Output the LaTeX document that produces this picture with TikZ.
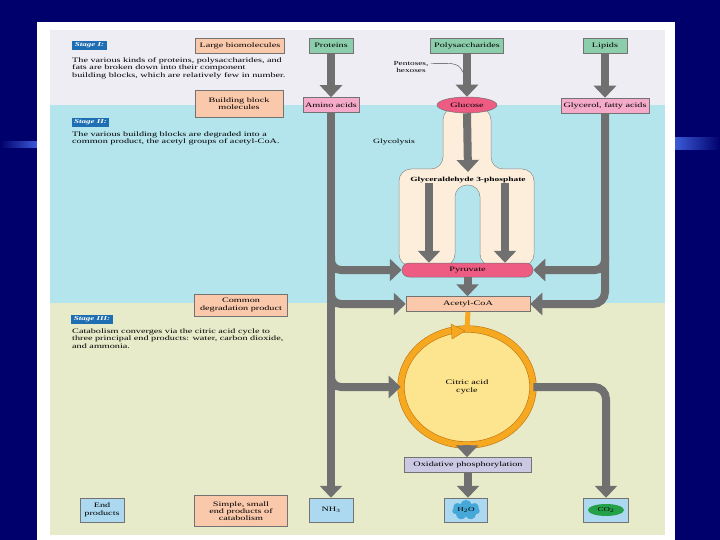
\documentclass[tikz,border=0pt]{standalone}
\usepackage{fontspec}
\setmainfont{Liberation Serif}[FakeStretch=1.5]
\usetikzlibrary{shapes.geometric, shapes.symbols, arrows.meta}
\definecolor{slidenavy}{RGB}{0, 0, 108}
\definecolor{stripeblue}{RGB}{60, 90, 215}
\definecolor{bandgrey}{RGB}{237, 237, 243}
\definecolor{bandcyan}{RGB}{180, 228, 236}
\definecolor{bandolive}{RGB}{232, 235, 202}
\definecolor{peach1}{RGB}{250, 200, 170}
\definecolor{mint1}{RGB}{140, 206, 172}
\definecolor{pink1}{RGB}{244, 170, 200}
\definecolor{rose1}{RGB}{238, 92, 132}
\definecolor{cream1}{RGB}{253, 238, 220}
\definecolor{sky1}{RGB}{172, 216, 240}
\definecolor{lilac1}{RGB}{202, 200, 226}
\definecolor{stageblue}{RGB}{30, 110, 180}
\definecolor{flowgray}{RGB}{112, 112, 112}
\definecolor{ringorange}{RGB}{246, 168, 32}
\definecolor{ringedge}{RGB}{190, 120, 20}
\definecolor{cyclefill}{RGB}{253, 228, 142}
\definecolor{waterblue}{RGB}{70, 168, 216}
\definecolor{gasgreen}{RGB}{36, 160, 72}

\begin{document}
\begin{tikzpicture}[x=1pt, y=-1pt,
  tag/.style={fill=stageblue, text=white, inner xsep=2.5pt, inner ysep=1.8pt, font=\fontsize{6}{6.5}\selectfont\bfseries\itshape},
  para/.style={anchor=north west, align=left, inner sep=0pt, font=\fontsize{6.8}{7.4}\selectfont},
  box/.style={draw=black!55, line width=0.5pt, align=center, inner sep=1pt, font=\fontsize{6.8}{7.3}\selectfont},
  flow/.style={draw=flowgray, line width=8pt, -{Triangle[width=22pt,length=12pt]}}]

  % slide and panel
  \fill[slidenavy] (0,0) rectangle (720,540);
  \shade[left color=slidenavy, right color=stripeblue] (0,142) rectangle (37,148);
  \shade[left color=stripeblue, right color=slidenavy] (675,138) rectangle (720,150);
  \fill[white] (37,22) rectangle (675,540);
  \fill[bandgrey] (50,30) rectangle (665,105);
  \fill[bandcyan] (50,105) rectangle (665,303);
  \fill[bandolive] (50,303) rectangle (665,535);

  % glycolysis body
  \draw[draw=black!45, fill=cream1, line width=0.5pt, rounded corners=12pt]
    (399,266) -- (399,169) -- (443,169) -- (443,108) -- (491,108) -- (491,169)
    -- (534,169) -- (534,266) -- (480,266) -- (480,185) -- (455,185) -- (455,266) -- cycle;

  % stage texts
  \node[tag] (tag1) at (89.5,45.5) {Stage I:};
  \node[para] (text1) at (72,57.5) {The various kinds of proteins, polysaccharides, and\\fats are broken down into their component\\building blocks, which are relatively few in number.};
  \node[tag] (tag2) at (90.5,122.5) {Stage II:};
  \node[para] (text2) at (72,131.5) {The various building blocks are degraded into a\\common product, the acetyl groups of acetyl-CoA.};
  \node[tag] (tag3) at (92,319.5) {Stage III:};
  \node[para] (text3) at (72,328.5) {Catabolism converges via the citric acid cycle to\\three principal end products: water, carbon dioxide,\\and ammonia.};

  % level boxes
  \node[box, fill=peach1, minimum width=89pt, minimum height=15pt] (large) at (240,45.5) {Large biomolecules};
  \node[box, fill=peach1, minimum width=88pt, minimum height=27pt] (building) at (239,103.5) {Building block\\molecules};
  \node[box, fill=peach1, minimum width=93pt, minimum height=22pt] (common) at (241,305) {Common\\degradation product};
  \node[box, fill=peach1, minimum width=93pt, minimum height=31pt] (simple) at (241,511) {Simple, small\\end products of\\catabolism};
  \node[box, fill=sky1, minimum width=44pt, minimum height=24pt] (endprod) at (102,510) {End\\products};

  % large biomolecules
  \node[box, fill=mint1, minimum width=44pt, minimum height=15pt] (proteins) at (331,45.5) {Proteins};
  \node[box, fill=mint1, minimum width=73pt, minimum height=15pt] (polysac) at (467,45.5) {Polysaccharides};
  \node[box, fill=mint1, minimum width=44pt, minimum height=15pt] (lipids) at (605,45.5) {Lipids};

  % building blocks
  \node[box, fill=pink1, minimum width=56pt, minimum height=15pt] (amino) at (331,105) {Amino acids};
  \node[box, ellipse, fill=rose1, minimum width=60pt, minimum height=16pt, inner sep=0pt] (glucose) at (467,105) {Glucose};
  \node[box, fill=pink1, minimum width=88pt, minimum height=15pt] (glycerol) at (605,105.5) {Glycerol, fatty acids};
  \node[align=center, inner sep=0pt, font=\fontsize{6.2}{7.4}\selectfont] (pentoses) at (411,67) {Pentoses,\\hexoses};
  \coordinate (hexarrow) at (464,74);
  \draw[black!75, line width=0.4pt] ([xshift=2pt,yshift=3.5pt]pentoses.east) .. controls (458,63) .. (hexarrow);

  % glycolysis
  \node[inner sep=0pt, font=\fontsize{6.5}{7}\selectfont] (glyco) at (394,142) {Glycolysis};
  \node[inner sep=0pt, font=\fontsize{6.3}{7}\selectfont\bfseries] (g3p) at (468,180) {Glyceraldehyde 3-phosphate};
  \node[box, fill=rose1, rounded corners=7pt, minimum width=131pt, minimum height=14pt] (pyruvate) at (467.5,270) {Pyruvate};
  \node[box, fill=peach1, minimum width=124pt, minimum height=15pt] (acetyl) at (468,304) {Acetyl-CoA};

  % citric acid cycle
  \node[ellipse, draw=ringedge, double=ringorange, double distance=6pt, line width=0.6pt, fill=cyclefill,
    minimum width=132pt, minimum height=116pt, align=center, font=\fontsize{6.8}{7.6}\selectfont] (cycle) at (467,387) {Citric acid\\cycle};
  \draw[ringorange, line width=5pt] (acetyl.south) -- (cycle.north);
  \fill[ringorange, draw=ringedge, line width=0.4pt] (451,324) -- (465,331) -- (452,339) -- cycle;
  \node[box, fill=lilac1, minimum width=127pt, minimum height=15pt] (oxphos) at (468,465) {Oxidative phosphorylation};

  % end products
  \node[box, fill=sky1, minimum width=44pt, minimum height=24pt] (nh3) at (331,510) {NH\textsubscript{3}};
  \node[box, fill=sky1, minimum width=43pt, minimum height=24pt] (h2o) at (466,510) {};
  \node[cloud, cloud puffs=7, aspect=2, fill=waterblue, inner sep=0.5pt, font=\fontsize{6}{7}\selectfont] (h2oblob) at (h2o) {H\textsubscript{2}O};
  \node[box, fill=sky1, minimum width=45pt, minimum height=24pt] (co2) at (606,510) {};
  \node[ellipse, fill=gasgreen, minimum width=36pt, minimum height=12pt, inner sep=0pt, font=\fontsize{6}{7}\selectfont] (co2blob) at (co2) {CO\textsubscript{2}};

  % branch points
  \coordinate (aminopyr) at (331,256);
  \coordinate (aminoacet) at (331,290);
  \coordinate (aminocyc) at (331,370);
  \coordinate (glycpyr) at (605,256);

  % flows
  \draw[flow] (proteins.south) -- (amino.north);
  \draw[flow] (polysac.south) -- (glucose.north);
  \draw[flow] (lipids.south) -- (lipids.south |- glycerol.north);
  \draw[flow] (amino.south) -- (nh3.north);
  \draw[flow] (glucose.south) -- ([yshift=5pt]g3p.north);
  \draw[flow] ([xshift=-39pt]g3p.south) -- ([xshift=-39pt]g3p.south |- pyruvate.north);
  \draw[flow] ([xshift=37pt]g3p.south) -- ([xshift=37pt]g3p.south |- pyruvate.north);
  \draw[flow] (pyruvate.south) -- (pyruvate.south |- acetyl.north);
  \draw[flow, rounded corners=10pt] (aminopyr) |- (pyruvate.west);
  \draw[flow, rounded corners=10pt] (aminoacet) |- (acetyl.west);
  \draw[flow, rounded corners=10pt] (aminocyc) |- (cycle.west);
  \draw[flow, rounded corners=12pt] (glycerol.south) |- (acetyl.east);
  \draw[flow, rounded corners=10pt] (glycpyr) |- (pyruvate.east);
  \draw[flow, rounded corners=12pt] (cycle.east) -| (co2.north);
  \draw[flow] (cycle.south) -- (cycle.south |- oxphos.north);
  \draw[flow] (oxphos.south) -- (oxphos.south |- h2o.north);
\end{tikzpicture}
\end{document}
